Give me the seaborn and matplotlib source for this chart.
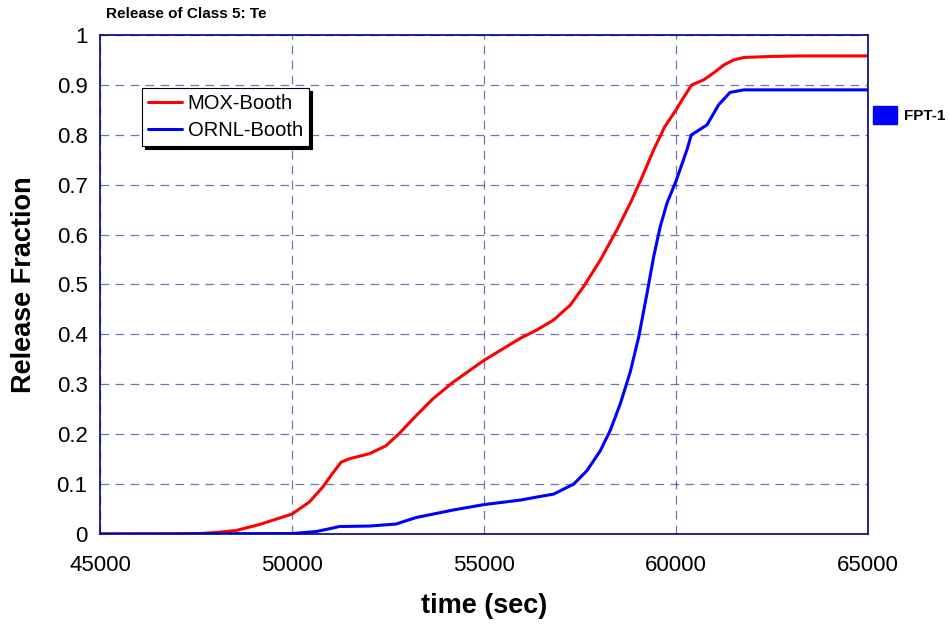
import numpy as np
import pandas as pd
import matplotlib
matplotlib.use("Agg")
import matplotlib.pyplot as plt
import seaborn as sns
from matplotlib.patches import Patch

# ── Data ─────────────────────────────────────────────────────────────────────
mox_time = [45000, 47000, 47583, 48000, 48540, 49150, 50000, 50450, 50800, 51060,
            51280, 51500, 52020, 52450, 52800, 53230, 53670, 54190, 55000, 55940,
            56380, 56814, 57250, 57595, 58030, 58464, 58810, 59070, 59420, 59700,
            60000, 60200, 60410, 60720, 61000, 61250, 61500, 61770, 62500, 63250,
            65000]
mox_frac = [0.0, 0.0, 0.001, 0.003, 0.007, 0.019, 0.040, 0.064, 0.094, 0.122,
            0.144, 0.151, 0.161, 0.177, 0.202, 0.237, 0.271, 0.304, 0.348, 0.392,
            0.409, 0.429, 0.459, 0.496, 0.549, 0.610, 0.663, 0.707, 0.770, 0.815,
            0.850, 0.875, 0.900, 0.910, 0.925, 0.940, 0.950, 0.955, 0.957, 0.958,
            0.958]

ornl_time = [45000, 50000, 50630, 51000, 51230, 52020, 52710, 53230, 54190, 55000,
             55946, 56370, 56814, 57335, 57682, 58030, 58290, 58550, 58810, 59030,
             59245, 59420, 59590, 59766, 60000, 60286, 60400, 60550, 60810, 61110,
             61410, 61770, 63000, 65000]
ornl_frac = [0.0, 0.001, 0.005, 0.011, 0.015, 0.016, 0.020, 0.033, 0.048, 0.059,
             0.068, 0.074, 0.080, 0.100, 0.127, 0.167, 0.208, 0.261, 0.325, 0.395,
             0.482, 0.556, 0.616, 0.663, 0.707, 0.770, 0.800, 0.807, 0.820, 0.860,
             0.885, 0.890, 0.890, 0.890]

series_names = ["MOX-Booth", "ORNL-Booth"]
series_colors = {"MOX-Booth": "#ff0000", "ORNL-Booth": "#0000ff"}
y_tick_labels = ["0", "0.1", "0.2", "0.3", "0.4", "0.5", "0.6", "0.7", "0.8", "0.9", "1"]

df = pd.concat([
    pd.DataFrame({"time": mox_time, "frac": mox_frac, "case": "MOX-Booth"}),
    pd.DataFrame({"time": ornl_time, "frac": ornl_frac, "case": "ORNL-Booth"}),
])

# ── Plot ─────────────────────────────────────────────────────────────────────
sns.set_style("white")
plt.rcParams["font.family"] = ["Liberation Sans", "DejaVu Sans"]
plt.rcParams["text.color"] = "black"
plt.rcParams["axes.labelcolor"] = "black"
plt.rcParams["xtick.labelcolor"] = "black"
plt.rcParams["ytick.labelcolor"] = "black"

fig = plt.figure(figsize=(9.49, 6.29), dpi=100)
ax = fig.add_axes([0.1054, 0.151, 0.8092, 0.7934])

sns.lineplot(data=df, x="time", y="frac", hue="case", hue_order=series_names,
             palette=series_colors, linewidth=2.2, ax=ax, legend=False)

navy = "#000080"
ax.set_xlim(45000, 65000)
ax.set_ylim(0, 1)
ax.set_xticks(np.arange(45000, 65001, 5000))
ax.set_yticks(np.linspace(0, 1, 11))
ax.set_yticklabels(y_tick_labels)
ax.grid(True, color=navy, alpha=0.55, linestyle=(0, (7, 5)), linewidth=0.9)
for s in ax.spines.values():
    s.set_color(navy)
    s.set_linewidth(1.2)
ax.tick_params(axis="both", direction="inout", length=10, width=1.2, color=navy,
               labelsize=16, pad=4, labelcolor="black")
ax.tick_params(axis="x", pad=10)

ax.set_xlabel("time (sec)", fontsize=19.5, fontweight="bold", color="black")
ax.set_ylabel("Release Fraction", fontsize=19.5, fontweight="bold", color="black")
ax.xaxis.set_label_coords(0.5, -0.118)
ax.yaxis.set_label_coords(-0.082, 0.5)
fig.text(0.112, 0.978, "Release of Class 5: Te", fontsize=11, fontweight="bold",
         ha="left", va="center", color="black")

handles = [plt.Line2D([], [], color=series_colors[n], linewidth=2.2) for n in series_names]
leg = ax.legend(handles, series_names, loc="upper left", bbox_to_anchor=(0.055, 0.894),
                fontsize=14.5, frameon=True, fancybox=False,
                shadow={"color": "black", "alpha": 1.0},
                handlelength=1.65, handletextpad=0.3, borderpad=0.3, labelspacing=0.4,
                borderaxespad=0)
leg.get_frame().set_edgecolor("black")
leg.get_frame().set_linewidth(0.8)

fpt = Patch(facecolor="#0000ff", edgecolor="#0000ff")
fig.legend([fpt], ["FPT-1"], loc="center left", bbox_to_anchor=(0.92, 0.817),
           frameon=False, handlelength=1.55, handleheight=1.5, handletextpad=0.5,
           borderpad=0, borderaxespad=0,
           prop={"size": 11, "weight": "bold"})

fig.savefig("out.png", dpi=100)
plt.close(fig)
